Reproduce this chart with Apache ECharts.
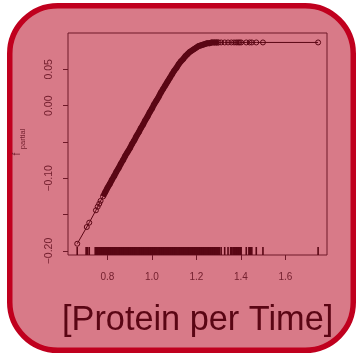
<!DOCTYPE html>
<html>
<head>
<meta charset="utf-8">
<script src="https://cdn.jsdelivr.net/npm/echarts@6/dist/echarts.min.js"></script>
<style>
  html, body { margin: 0; padding: 0; background: #fff; }
  #chart { width: 358px; height: 356px; }
</style>
</head>
<body>
<div id="chart"></div>
<script>
// partial dependence points
const lowX = [0.664, 0.707, 0.718, 0.748, 0.756, 0.763, 0.769];
const lowY = [-0.190, -0.167, -0.161, -0.144, -0.139, -0.135, -0.131];

const coreX = [0.78, 0.79, 0.80, 0.81, 0.82, 0.83, 0.84, 0.85, 0.86, 0.87,
  0.88, 0.89, 0.90, 0.91, 0.92, 0.93, 0.94, 0.95, 0.96, 0.97,
  0.98, 0.99, 1.00, 1.01, 1.02, 1.03, 1.04, 1.05, 1.06, 1.07,
  1.08, 1.09, 1.10, 1.11, 1.12, 1.13, 1.14, 1.15, 1.16, 1.17,
  1.18, 1.19, 1.20, 1.21, 1.22, 1.23, 1.24, 1.25, 1.26, 1.27,
  1.28, 1.29, 1.30];
const coreY = [-0.125, -0.119, -0.113, -0.108, -0.102, -0.097, -0.091, -0.086, -0.080, -0.075,
  -0.069, -0.064, -0.059, -0.053, -0.048, -0.042, -0.037, -0.031, -0.026, -0.020,
  -0.015, -0.009, -0.004, 0.002, 0.007, 0.012, 0.018, 0.023, 0.028, 0.033,
  0.038, 0.043, 0.048, 0.052, 0.057, 0.061, 0.064, 0.068, 0.071, 0.074,
  0.076, 0.078, 0.080, 0.082, 0.083, 0.084, 0.085, 0.086, 0.086, 0.087,
  0.087, 0.087, 0.087];

const flatX = [1.311, 1.327, 1.342, 1.357, 1.369, 1.379, 1.387, 1.394, 1.401, 1.424,
  1.439, 1.449, 1.469, 1.499, 1.747];
const flatY = [0.087, 0.087, 0.087, 0.087, 0.087, 0.087, 0.087, 0.087, 0.087, 0.087,
  0.087, 0.087, 0.087, 0.087, 0.087];

const xTicks = [0.8, 1.0, 1.2, 1.4, 1.6];
const yTicks = [-0.2, -0.15, -0.1, -0.05, 0, 0.05];
const yLabels = [-0.2, -0.1, 0, 0.05];

const dark = '#5a0614';
const axisCol = '#6e1828';
const labelCol = '#74202f';

const allX = lowX.concat(coreX, flatX);
const allY = lowY.concat(coreY, flatY);
const points = allX.map((x, i) => [x, allY[i]]);
const core = coreX.map((x, i) => [x, coreY[i]]);

const chart = echarts.init(document.getElementById('chart'), null, { renderer: 'canvas' });
chart.setOption({
  animation: false,
  backgroundColor: '#fff',
  graphic: [
    {
      type: 'rect',
      z: -10,
      shape: { x: 9.75, y: 5.75, width: 343.5, height: 344.5, r: 48 },
      style: { fill: '#d87a88', stroke: '#c0001e', lineWidth: 5.5 }
    },
    {
      type: 'text',
      left: 62,
      top: 304,
      style: {
        text: '[Protein per Time]',
        font: '34.3px "Liberation Sans", Arial, sans-serif',
        fill: dark
      }
    },
    // y axis title: f with subscript "partial"
    {
      type: 'text',
      x: 17.5,
      y: 154,
      rotation: Math.PI / 2,
      style: {
        text: 'f',
        font: '10px "Liberation Sans", Arial, sans-serif',
        fill: labelCol,
        align: 'center',
        verticalAlign: 'middle'
      }
    },
    {
      type: 'text',
      x: 22.5,
      y: 139,
      rotation: Math.PI / 2,
      style: {
        text: 'partial',
        font: '7.5px "Liberation Sans", Arial, sans-serif',
        fill: labelCol,
        align: 'center',
        verticalAlign: 'middle'
      }
    }
  ],
  grid: {
    left: 68,
    top: 33,
    right: 31,
    bottom: 101,
    outerBoundsMode: 'none',
    show: true,
    borderColor: axisCol,
    borderWidth: 1,
    backgroundColor: 'transparent'
  },
  xAxis: {
    type: 'value',
    min: 0.6225,
    max: 1.787,
    splitLine: { show: false },
    axisLine: { show: false, onZero: false },
    axisTick: { show: true, length: 5, customValues: xTicks, lineStyle: { color: axisCol } },
    axisLabel: {
      customValues: xTicks,
      margin: 17,
      fontSize: 10,
      fontFamily: 'Liberation Sans',
      color: labelCol,
      formatter: (v) => v.toFixed(1)
    }
  },
  yAxis: {
    type: 'value',
    min: -0.2055,
    max: 0.1,
    splitLine: { show: false },
    axisLine: { show: false, onZero: false },
    axisTick: { show: true, length: 5, customValues: yTicks, lineStyle: { color: axisCol } },
    axisLabel: {
      customValues: yLabels,
      rotate: 90,
      margin: 13,
      fontSize: 10.5,
      fontFamily: 'Liberation Sans',
      color: labelCol,
      formatter: (v) => v.toFixed(2).replace('-', '\u2212')
    }
  },
  series: [
    {
      type: 'line',
      data: core,
      symbol: 'none',
      silent: true,
      lineStyle: { color: dark, width: 6 }
    },
    {
      type: 'line',
      data: points,
      symbol: 'circle',
      symbolSize: 5,
      showAllSymbol: true,
      silent: true,
      itemStyle: { color: 'rgba(0,0,0,0)', borderColor: dark, borderWidth: 1 },
      lineStyle: { color: dark, width: 1 }
    },
    {
      // rug of the x values along the bottom of the box
      type: 'custom',
      silent: true,
      data: allX.map((x, i) => [x, allX[i + 1] !== undefined ? allX[i + 1] : x + 1]),
      renderItem: (params, api) => {
        const p = api.coord([api.value(0), -0.2055]);
        const q = api.coord([api.value(1), -0.2055]);
        const gap = q[0] - p[0];
        return {
          type: 'line',
          shape: { x1: p[0], y1: p[1], x2: p[0], y2: p[1] - 8 },
          style: { stroke: dark, lineWidth: gap < 3 ? 3 : 1.6 }
        };
      }
    }
  ]
});
window.addEventListener('resize', () => {
  chart.resize();
});
</script>
</body>
</html>
